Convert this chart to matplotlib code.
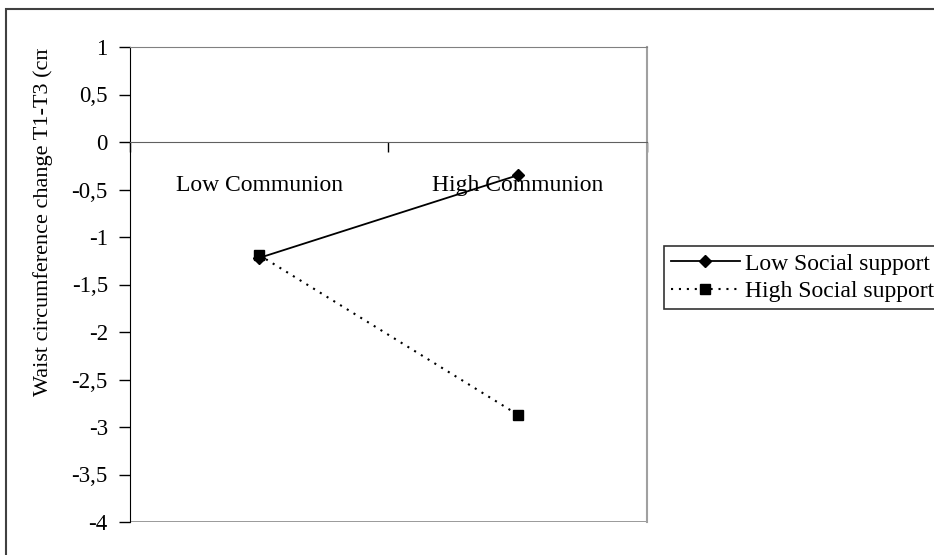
import matplotlib.pyplot as plt
import matplotlib.patches as patches
from matplotlib.transforms import Bbox, TransformedBbox
from matplotlib.ticker import FuncFormatter

plt.rcParams['font.family'] = ['Liberation Serif', 'DejaVu Serif']
plt.rcParams['axes.unicode_minus'] = False

categories = ["Low Communion", "High Communion"]
low_support = [-1.22, -0.35]
high_support = [-1.19, -2.87]
series_names = ["Low Social support", "High Social support"]
y_ticks = [1, 0.5, 0, -0.5, -1, -1.5, -2, -2.5, -3, -3.5, -4]

W, H = 934, 555
fig = plt.figure(figsize=(W / 100, H / 100), dpi=100)
ax = fig.add_axes([130 / W, 1 - 522 / H, (647 - 130) / W, (522 - 47) / H])

x = [0.5, 1.5]
ax.plot(x, low_support, color="black", lw=1.3, marker="D", ms=6.5,
        label=series_names[0], zorder=3)
ax.plot(x, high_support, color="black", lw=1.5, linestyle=(0, (1, 2.8)),
        marker="s", ms=6.5, label=series_names[1], zorder=3)

ax.set_xlim(0, 2)
ax.set_ylim(-4, 1)
ax.set_yticks(y_ticks)
ax.yaxis.set_major_formatter(FuncFormatter(lambda v, p: ("%g" % v).replace(".", ",")))
ax.tick_params(axis="y", direction="out", length=8, width=1, labelsize=16.5, pad=8)

# x axis sits at zero, ticks between categories
ax.spines["bottom"].set_position(("data", 0))
ax.spines["bottom"].set_color("#606060")
ax.set_xticks([0, 1, 2])
ax.set_xticklabels([])
ax.tick_params(axis="x", direction="out", length=7, width=1, colors="black")
ax.spines["right"].set_color("#a0a0a0")
ax.spines["right"].set_linewidth(1.5)
ax.spines["top"].set_color("#808080")
ax.spines["left"].set_color("black")
ax.axhline(-4, color="#909090", lw=2, zorder=1)

for xi, name in zip(x, categories):
    ax.text(xi, -0.46, name, ha="center", va="center", fontsize=17, zorder=2)

ylab = fig.text(43 / W, 1 - 396 / H, "Waist circumference change T1-T3 (cm)",
                rotation=90, rotation_mode="anchor", ha="left", va="center",
                fontsize=16)
ylab.set_clip_box(TransformedBbox(Bbox([[0, 0], [1, 1 - 49 / H]]), fig.transFigure))
ylab.set_clip_on(True)

leg = fig.legend(loc="upper left", bbox_to_anchor=(664 / W, 1 - 246 / H),
                 frameon=True, fancybox=False, edgecolor="black", fontsize=17,
                 handlelength=2.9, handletextpad=0.25, borderpad=0.3,
                 labelspacing=0.25, borderaxespad=0)
leg.get_frame().set_linewidth(1.2)

frame = patches.Rectangle((6 / W, -0.1), 1.2, 1.1 - 9 / H, transform=fig.transFigure,
                          facecolor="none", edgecolor="#404040", lw=1.5, clip_on=False)
fig.add_artist(frame)

fig.savefig("out.png", dpi=100)
